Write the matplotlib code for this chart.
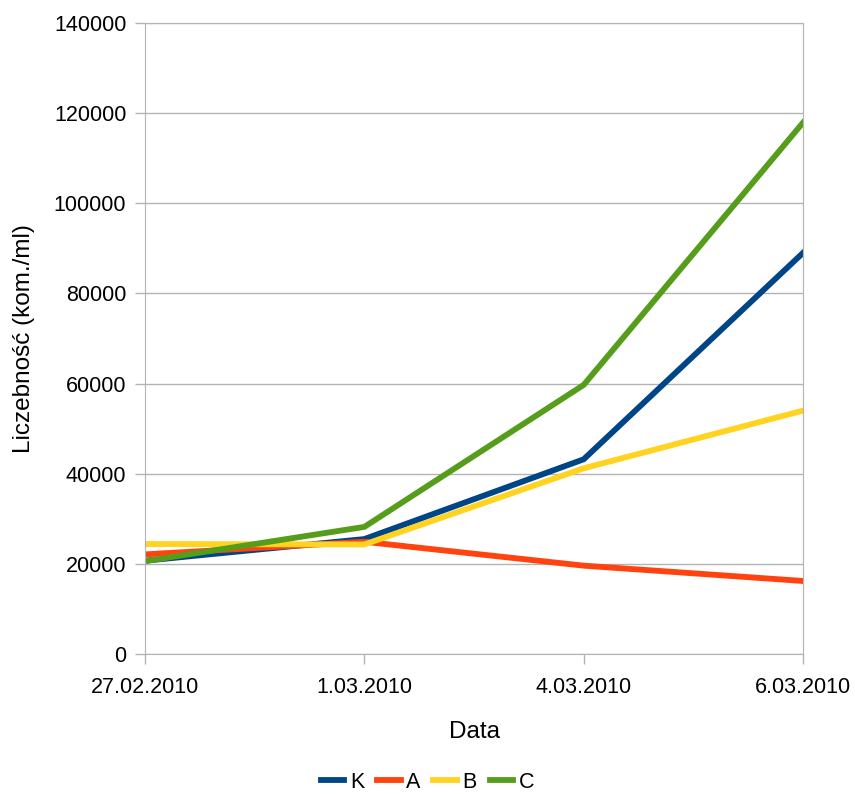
import matplotlib
matplotlib.use("Agg")
import matplotlib.pyplot as plt

dates = ["27.02.2010", "1.03.2010", "4.03.2010", "6.03.2010"]
K = [20700, 25500, 43200, 89000]
A = [22100, 24900, 19600, 16200]
B = [24400, 24300, 41200, 54000]
C = [20600, 28200, 59700, 117900]
yticks = [0, 20000, 40000, 60000, 80000, 100000, 120000, 140000]

plt.rcParams['font.family'] = ['Liberation Sans', 'DejaVu Sans']
W, H = 855, 794
fig = plt.figure(figsize=(W/100, H/100), dpi=100)
L, R, T, B_ = 145, 803, 23, 654
ax = fig.add_axes([L/W, 1-B_/H, (R-L)/W, (B_-T)/H])

x = list(range(len(dates)))
series = [("K", K, "#004586"), ("A", A, "#ff420e"), ("B", B, "#ffd320"), ("C", C, "#579d1c")]
for name, vals, col in series:
    ax.plot(x, vals, color=col, lw=4.2, label=name, solid_joinstyle='miter')

ax.set_xlim(0, 3)
ax.set_ylim(0, 140000)
ax.set_yticks(yticks)
ax.set_yticklabels([str(v) for v in yticks])
ax.set_xticks(x)
ax.set_xticklabels(dates)
ax.grid(axis='y', color='#b3b3b3', lw=1)
ax.set_axisbelow(True)
for s in ax.spines.values():
    s.set_color('#b3b3b3')
ax.tick_params(axis='both', colors='#b3b3b3', labelcolor='black', labelsize=15.5, length=7.5, width=1)
ax.tick_params(axis='x', pad=9)
ax.tick_params(axis='y', pad=6)
ax.set_xlabel("Data", fontsize=17.5, va='center')
ax.set_ylabel("Liczebność (kom./ml)", fontsize=17.5, va='center')
ax.xaxis.set_label_coords(0.5, -(732 - B_)/(B_ - T))
ax.yaxis.set_label_coords(-(L - 24)/(R - L), 0.5)

leg = fig.legend(loc='center', bbox_to_anchor=(0.5, 1-782/H), ncol=4, frameon=False,
                 fontsize=15.5, handlelength=1.1, handletextpad=0.25, columnspacing=0.6)
fig.savefig("out.png", dpi=100)
